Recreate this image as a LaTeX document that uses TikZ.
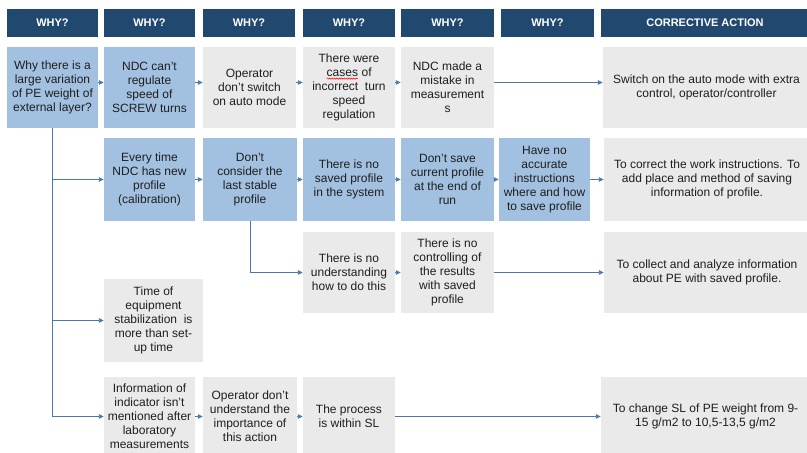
\documentclass[tikz,border=0pt]{standalone}
\usepackage{fontspec}
\setmainfont{Liberation Sans}
\usetikzlibrary{arrows.meta,decorations.pathmorphing}
\definecolor{hdr}{HTML}{21496F}
\definecolor{lblue}{HTML}{A2C1E1}
\definecolor{lgray}{HTML}{EAEAEA}
\definecolor{arr}{HTML}{4A78A8}
\definecolor{txt}{HTML}{1E1E1E}
\newcommand\redwave[1]{\tikz[baseline=(w.base)]{\node[inner sep=0pt,outer sep=0pt,minimum width=0pt,minimum height=0pt,fill=none,draw=none] (w) {#1};
  \draw[red,line width=0.5pt,decorate,decoration={snake,amplitude=0.6pt,segment length=2.4pt}] ([yshift=-2pt]w.base west) -- ([yshift=-2pt]w.base east);}}
\begin{document}
\begin{tikzpicture}[x=1pt,y=-1pt,
  hdrbox/.style={fill=hdr,text=white,inner sep=0,minimum height=28pt,font=\fontsize{11}{12}\selectfont\bfseries},
  cbox/.style={inner sep=0,align=center,text=txt,font=\fontsize{12}{14}\selectfont},
  bluebox/.style={cbox,fill=lblue},
  graybox/.style={cbox,fill=lgray},
  link/.style={draw=arr,line width=0.9pt,-{Triangle[length=5pt,width=4.5pt]}}
]
\useasboundingbox[fill=white] (0,0) rectangle (807,453);
% headers
\node[hdrbox,minimum width=91pt] (h1) at (52.5,23) {WHY?};
\node[hdrbox,minimum width=91pt] (h2) at (149.5,23) {WHY?};
\node[hdrbox,minimum width=92pt] (h3) at (249,23) {WHY?};
\node[hdrbox,minimum width=92pt] (h4) at (349,23) {WHY?};
\node[hdrbox,minimum width=93pt] (h5) at (447.5,23) {WHY?};
\node[hdrbox,minimum width=93pt] (h6) at (547.5,23) {WHY?};
\node[hdrbox,minimum width=208pt] (h7) at (705,23) {CORRECTIVE ACTION};
% row 1
\node[bluebox,minimum width=91pt,minimum height=81pt] (a1) at (52.5,87.5) {Why there is a\\large variation\\of PE weight of\\external layer?};
\node[bluebox,minimum width=91pt,minimum height=81pt] (a2) at (149.5,87.5) {NDC can’t\\regulate\\speed of\\SCREW turns};
\node[graybox,minimum width=93pt,minimum height=81pt] (a3) at (249.5,87.5) {Operator\\don’t switch\\on auto mode};
\node[graybox,minimum width=92pt,minimum height=81pt] (a4) at (349,87.5) {There were\\\redwave{cases} of\\incorrect\ \ turn\\speed\\regulation};
\node[graybox,minimum width=93pt,minimum height=81pt] (a5) at (447.5,87.5) {NDC made a\\mistake in\\measurement\\s};
\node[graybox,minimum width=207pt,minimum height=81pt] (a7) at (706.5,87.5) {Switch on the auto mode with extra\\control, operator/controller};
% row 2
\node[bluebox,minimum width=91pt,minimum height=83pt] (b2) at (149.5,179.5) {Every time\\NDC has new\\profile\\(calibration)};
\node[bluebox,minimum width=94pt,minimum height=83pt] (b3) at (250,179.5) {Don’t\\consider the\\last stable\\profile};
\node[bluebox,minimum width=92pt,minimum height=83pt] (b4) at (349,179.5) {There is no\\saved profile\\in the system};
\node[bluebox,minimum width=93pt,minimum height=83pt] (b5) at (447.5,179.5) {Don’t save\\current profile\\at the end of\\run};
\node[bluebox,minimum width=91pt,minimum height=83pt] (b6) at (544.5,179.5) {Have no\\accurate\\instructions\\where and how\\to save profile};
\node[graybox,minimum width=206pt,minimum height=83pt] (b7) at (707,179.5) {To correct the work instructions. To\\add place and method of saving\\information of profile.};
% row 3
\node[graybox,minimum width=92pt,minimum height=81pt] (c4) at (349,272.5) {There is no\\understanding\\how to do this};
\node[graybox,minimum width=93pt,minimum height=81pt] (c5) at (447.5,272.5) {There is no\\controlling of\\the results\\with saved\\profile};
\node[graybox,minimum width=206pt,minimum height=81pt] (c7) at (707,272.5) {To collect and analyze information\\about PE with saved profile.};
% row 4
\node[graybox,minimum width=99pt,minimum height=83pt] (d2) at (153.5,320.5) {Time of\\equipment\\stabilization\ \ is\\more than set-\\up time};
% row 5
\node[graybox,minimum width=91pt,minimum height=79pt] (e2) at (149.5,416.5) {Information of\\indicator isn’t\\mentioned after\\laboratory\\measurements};
\node[graybox,minimum width=94pt,minimum height=79pt] (e3) at (250,416.5) {Operator don’t\\understand the\\importance of\\this action};
\node[graybox,minimum width=92pt,minimum height=79pt] (e4) at (349,416.5) {The process\\is within SL};
\node[graybox,minimum width=209pt,minimum height=79pt] (e7) at (705.5,416.5) {To change SL of PE weight from 9-\\15 g/m2 to 10,5-13,5 g/m2};
% connectors row 1
\draw[link] ([yshift=5pt]a1.east) -- ([yshift=5pt]a2.west);
\draw[link] ([yshift=5pt]a2.east) -- ([yshift=5pt]a3.west);
\draw[link] ([yshift=5pt]a3.east) -- ([yshift=5pt]a4.west);
\draw[link] ([yshift=5pt]a4.east) -- ([yshift=5pt]a5.west);
\draw[link] ([yshift=5pt]a5.east) -- ([yshift=5pt]a7.west);
% trunk
\draw[link] (a1.south) |- (b2.west);
\draw[link] (a1.south) |- (d2.west);
\draw[link] (a1.south) |- (e2.west);
% row 2
\draw[link] (b2) -- (b3);
\draw[link] (b3) -- (b4);
\draw[link] (b4) -- (b5);
\draw[link] (b5) -- (b6);
\draw[link] (b6) -- (b7);
% row 3
\draw[link] (b3.south) |- (c4.west);
\draw[link] (c4) -- (c5);
\draw[link] (c5) -- (c7);
% row 5
\draw[link] (e2) -- (e3);
\draw[link] (e3) -- (e4);
\draw[link] (e4) -- (e7);
\end{tikzpicture}
\end{document}
